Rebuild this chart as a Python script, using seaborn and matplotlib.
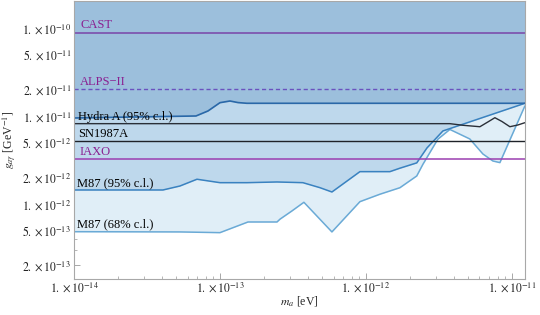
import numpy as np
import pandas as pd
import matplotlib
matplotlib.use("Agg")
import matplotlib.pyplot as plt
import seaborn as sns
from matplotlib.ticker import FixedLocator, LogLocator, NullFormatter

# ---------------- data ----------------
hydra_m = [1e-14, 6.85e-14, 8.28e-14, 1e-13, 1.171e-13, 1.33e-13, 1.531e-13, 1.228e-11]
hydra_g = [9.49e-12, 1.0e-11, 1.14e-11, 1.416e-11, 1.48e-11, 1.42e-11, 1.394e-11, 1.394e-11]

m87_95_m = [1e-14, 4.07e-14, 5.32e-14, 6.96e-14, 1e-13, 1.531e-13, 2.46e-13, 3.70e-13,
            4.84e-13, 5.85e-13, 9.10e-13, 1.46e-12, 1.71e-12, 2.23e-12, 2.62e-12, 3.37e-12, 1.228e-11]
m87_95_g = [1.442e-12, 1.442e-12, 1.60e-12, 1.91e-12, 1.746e-12, 1.746e-12, 1.778e-12, 1.746e-12,
            1.532e-12, 1.368e-12, 2.33e-12, 2.33e-12, 2.55e-12, 2.93e-12, 4.33e-12, 6.76e-12, 1.394e-11]

m87_68_m = [1e-14, 5.32e-14, 1e-13, 1.556e-13, 2.46e-13, 2.58e-13, 3.11e-13, 3.76e-13, 5.85e-13,
            9.10e-13, 1.247e-12, 1.71e-12, 2.23e-12, 2.46e-12, 3.11e-12, 3.76e-12,
            5.15e-12, 6.33e-12, 7.41e-12, 8.28e-12, 1.228e-11]
m87_68_g = [4.84e-13, 4.81e-13, 4.72e-13, 6.24e-13, 6.24e-13, 6.72e-13, 8.32e-13, 1.045e-12, 4.81e-13,
            1.062e-12, 1.29e-12, 1.53e-12, 2.08e-12, 2.83e-12, 5.44e-12, 7.03e-12,
            5.48e-12, 3.70e-12, 3.08e-12, 2.95e-12, 1.30e-11]

hydra_black_m = [1e-14, 3.76e-12, 4.62e-12, 6.04e-12, 6.85e-12, 7.65e-12, 8.55e-12,
                 9.69e-12, 1.099e-11, 1.228e-11]
hydra_black_g = [8.18e-12, 8.18e-12, 7.84e-12, 7.55e-12, 8.55e-12, 9.56e-12, 8.66e-12,
                 7.55e-12, 7.9e-12, 8.39e-12]

cast_g = 8.8e-11
alps_g = 2.0e-11
sn1987a_g = 5.16e-12
iaxo_g = 3.27e-12

x_ticks = [1e-14, 1e-13, 1e-12, 1e-11]
x_ticklabels = [r"$1.\times10^{-14}$", r"$1.\times10^{-13}$", r"$1.\times10^{-12}$", r"$1.\times10^{-11}$"]
y_ticks = [1e-10, 5e-11, 2e-11, 1e-11, 5e-12, 2e-12, 1e-12, 5e-13, 2e-13]
y_ticklabels = [r"$1.\times10^{-10}$", r"$5.\times10^{-11}$", r"$2.\times10^{-11}$",
                r"$1.\times10^{-11}$", r"$5.\times10^{-12}$", r"$2.\times10^{-12}$",
                r"$1.\times10^{-12}$", r"$5.\times10^{-13}$", r"$2.\times10^{-13}$"]

# ---------------- style ----------------
sns.set_theme(style="ticks")
plt.rcParams["font.family"] = ["Liberation Serif", "DejaVu Serif"]
plt.rcParams["mathtext.fontset"] = "stix"

XMIN, XMAX = 1e-14, 1.228e-11
YMIN, YMAX = 1.4e-13, 2.03e-10

fig = plt.figure(figsize=(5.4, 3.15), dpi=100)
ax = fig.add_axes([0.137, 0.114, 0.835, 0.883])
ax.set_xscale("log")
ax.set_yscale("log")

c_light = "#e0eef7"
c_med = "#bed8ec"
c_dark = "#9cbfdc"

df68 = pd.DataFrame({"m": m87_68_m, "g": m87_68_g})
df95 = pd.DataFrame({"m": m87_95_m, "g": m87_95_g})
dfh = pd.DataFrame({"m": hydra_m, "g": hydra_g})
dfb = pd.DataFrame({"m": hydra_black_m, "g": hydra_black_g})

ax.fill_between(df68["m"], df68["g"], YMAX, color=c_light, lw=0)
ax.fill_between(df95["m"], df95["g"], YMAX, color=c_med, lw=0)
ax.fill_between(dfh["m"], dfh["g"], YMAX, color=c_dark, lw=0)

sns.lineplot(data=df68, x="m", y="g", ax=ax, color="#6aaad6", lw=1.1, sort=False)
sns.lineplot(data=df95, x="m", y="g", ax=ax, color="#3a82c0", lw=1.1, sort=False)
sns.lineplot(data=dfh, x="m", y="g", ax=ax, color="#2a68a8", lw=1.2, sort=False)
sns.lineplot(data=dfb, x="m", y="g", ax=ax, color="#2a2f38", lw=1.0, sort=False)

ax.axhline(sn1987a_g, color="#1e2228", lw=1.0)
ax.axhline(iaxo_g, color="#9b3fb0", lw=1.1)
ax.axhline(alps_g, color="#6a52bf", lw=1.0, ls=(0, (3, 2)))
ax.axhline(cast_g, color="#7a45a8", lw=1.1)

tx = 1.1e-14
purple = "#8a1f90"
fs = 8.5
lfs = 9
hydra_label_g = hydra_black_g[0]
ax.text(tx, cast_g * 1.04, "CAST", color=purple, fontsize=lfs, va="bottom", ha="left")
ax.text(tx, alps_g * 1.04, "ALPS−II", color=purple, fontsize=lfs, va="bottom", ha="left")
ax.text(1.07e-14, hydra_label_g * 1.02, "Hydra A (95% c.l.)", color="black", fontsize=lfs, va="bottom", ha="left")
ax.text(1.07e-14, sn1987a_g * 1.03, "SN1987A", color="black", fontsize=lfs, va="bottom", ha="left")
ax.text(tx, iaxo_g * 1.03, "IAXO", color=purple, fontsize=lfs, va="bottom", ha="left")
ax.text(1.05e-14, m87_95_g[0] * 1.03, "M87 (95% c.l.)", color="black", fontsize=lfs, va="bottom", ha="left")
ax.text(1.05e-14, m87_68_g[0] * 1.03, "M87 (68% c.l.)", color="black", fontsize=lfs, va="bottom", ha="left")

ax.set_xlim(XMIN, XMAX)
ax.set_ylim(YMIN, YMAX)

ax.xaxis.set_major_locator(FixedLocator(x_ticks))
ax.set_xticklabels(x_ticklabels)
ax.xaxis.set_minor_locator(LogLocator(base=10, subs=np.arange(2, 10)))
ax.xaxis.set_minor_formatter(NullFormatter())
ax.yaxis.set_major_locator(FixedLocator(y_ticks))
ax.set_yticklabels(y_ticklabels)
ax.yaxis.set_minor_locator(LogLocator(base=10, subs=np.arange(1, 10)))
ax.yaxis.set_minor_formatter(NullFormatter())

ax.tick_params(axis="both", which="major", direction="in", length=4, width=0.6,
               color="#999999", labelsize=fs, labelcolor="#222222", pad=2)
ax.tick_params(axis="x", which="major", pad=1)
ax.tick_params(axis="both", which="minor", direction="in", length=2.2, width=0.5, color="#999999")
for s in ax.spines.values():
    s.set_color("#a8a8a8")
    s.set_linewidth(0.8)

ax.set_xlabel(r"$m_a$ [eV]", fontsize=fs, labelpad=0)
ax.set_ylabel(r"$g_{a\gamma}$ [GeV$^{-1}$]", fontsize=fs, labelpad=2)

fig.savefig("out.png", dpi=100)
